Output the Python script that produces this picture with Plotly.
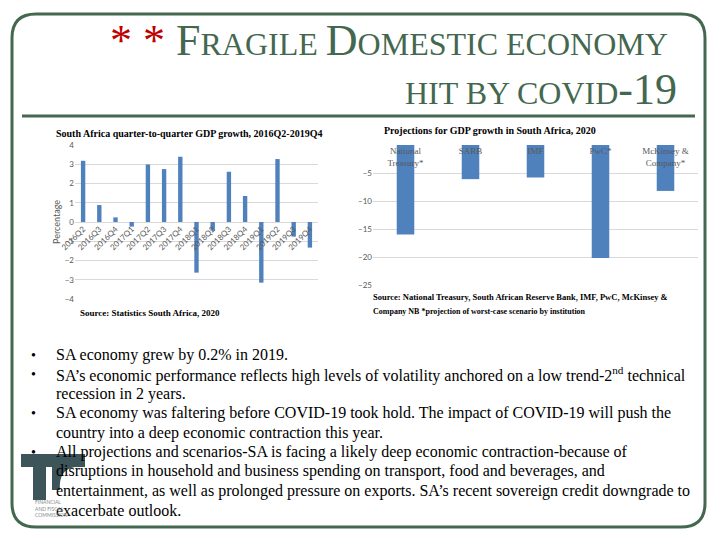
import plotly.graph_objects as go

# ---------------- data ----------------
quarters = ["2016Q2", "2016Q3", "2016Q4", "2017Q1", "2017Q2", "2017Q3", "2017Q4",
            "2018Q1", "2018Q2", "2018Q3", "2018Q4", "2019Q1", "2019Q2", "2019Q3", "2019Q4"]
gdp_growth = [3.18, 0.88, 0.24, -0.24, 2.99, 2.75, 3.39,
              -2.63, -0.45, 2.61, 1.35, -3.15, 3.27, -0.76, -1.33]
left_ticks = [-4, -3, -2, -1, 0, 1, 2, 3, 4]

institutions = ["National<br>Treasury*", "SARB", "IMF", "PwC*", "McKinsey &<br>Company*"]
projections_2020 = [-16.0, -6.1, -5.8, -20.2, -8.2]
right_ticks = [-25, -20, -15, -10, -5, 0]

bullets = [
    (True, "SA economy grew by 0.2% in 2019."),
    (True, "SA’s economic performance reflects high levels of volatility anchored on a low trend-2<sup>nd</sup> technical"),
    (False, "recession in 2 years."),
    (True, "SA economy was faltering before COVID-19 took hold. The impact of COVID-19 will push the"),
    (False, "country into a deep economic contraction this year."),
    (True, "All projections and scenarios-SA is facing a likely deep economic contraction-because of"),
    (False, "disruptions in household and business spending on transport, food and beverages, and"),
    (False, "entertainment, as well as prolonged pressure on exports. SA’s recent sovereign credit downgrade to"),
    (False, "exacerbate outlook."),
]

W, H = 720, 540
OFF = 8  # page body margin offset
def fx(x): return (x - OFF) / W
def fy(y): return 1 - (y - OFF) / H

BAR = "#4F81BD"
GRID = "#D9D9D9"
TICK = "#595959"
GREEN = "#44684F"
SERIF = "Liberation Serif, Times New Roman, serif"
SANS = "Lato, Liberation Sans, sans-serif"

fig = go.Figure()
fig.add_trace(go.Bar(x=quarters, y=gdp_growth, marker_color=BAR, xaxis="x", yaxis="y",
                     showlegend=False, hoverinfo="x+y"))
fig.add_trace(go.Bar(x=institutions, y=projections_2020, marker_color=BAR, xaxis="x2", yaxis="y2",
                     showlegend=False, hoverinfo="x+y"))

l_top, l_bot = fy(145), fy(299)
zero_pos = fy(222)
r_top, r_bot = fy(145), fy(285)

fig.update_layout(
    template="none",
    width=W, height=H, margin=dict(l=0, r=0, t=0, b=0, autoexpand=False),
    paper_bgcolor="white", plot_bgcolor="white",
    bargap=0.73,
    xaxis=dict(domain=[fx(75), fx(318)], anchor="free", position=zero_pos, automargin=False,
               tickangle=-45, tickfont=dict(family=SANS, size=8, color=TICK),
               showgrid=False, showline=False, ticks="", ticklen=0),
    yaxis=dict(domain=[l_bot, l_top], range=[-4, 4], tickvals=left_ticks, automargin=False,
               tickfont=dict(family=SANS, size=8, color=TICK),
               showgrid=True, gridcolor=GRID, zeroline=True, zerolinecolor=GRID,
               zerolinewidth=1, ticks="", showline=False,
               title=dict(text="Percentage", font=dict(family=SANS, size=9, color=TICK), standoff=2)),
    xaxis2=dict(domain=[fx(373), fx(698)], anchor="y2", side="top", ticklabelposition="inside",
                automargin=False,
                tickfont=dict(family=SERIF, size=9, color=TICK),
                showgrid=False, showline=False, ticks=""),
    yaxis2=dict(domain=[r_bot, r_top], range=[-25, 0], tickvals=right_ticks, anchor="x2",
                automargin=False,
                tickfont=dict(family=SANS, size=8, color=TICK),
                showgrid=True, gridcolor=GRID, zeroline=True, zerolinecolor=GRID,
                zerolinewidth=1, ticks="", showline=False),
)

ann = []
# header
ann.append(dict(x=fx(670), y=fy(67), xref="paper", yref="paper", xanchor="right", yanchor="bottom",
                showarrow=False,
                text='<span style="color:#C00000">* * </span>F<span style="font-size:32px">RAGILE </span>D'
                     '<span style="font-size:32px">OMESTIC ECONOMY</span>',
                font=dict(family=SERIF, size=44, color=GREEN)))
ann.append(dict(x=fx(679), y=fy(116), xref="paper", yref="paper", xanchor="right", yanchor="bottom",
                showarrow=False,
                text='<span style="font-size:32px">HIT BY COVID</span>-19',
                font=dict(family=SERIF, size=44, color=GREEN)))
# chart titles
ann.append(dict(x=fx(189), y=fy(133), xref="paper", yref="paper", xanchor="center", yanchor="middle",
                showarrow=False, text="<b>South Africa quarter-to-quarter GDP growth, 2016Q2-2019Q4</b>",
                font=dict(family=SERIF, size=10, color="black")))
ann.append(dict(x=fx(490), y=fy(131), xref="paper", yref="paper", xanchor="center", yanchor="middle",
                showarrow=False, text="<b>Projections for GDP growth in South Africa, 2020</b>",
                font=dict(family=SERIF, size=10, color="black")))
# sources
ann.append(dict(x=fx(78), y=fy(313), xref="paper", yref="paper", xanchor="left", yanchor="middle",
                showarrow=False, text="<b>Source: Statistics South Africa, 2020</b>",
                font=dict(family=SERIF, size=9, color="black")))
ann.append(dict(x=fx(371), y=fy(297), xref="paper", yref="paper", xanchor="left", yanchor="middle",
                showarrow=False,
                text="<b>Source: National Treasury, South African Reserve Bank, IMF, PwC, McKinsey &amp;</b>",
                font=dict(family=SERIF, size=8.5, color="black")))
ann.append(dict(x=fx(371), y=fy(311), xref="paper", yref="paper", xanchor="left", yanchor="middle",
                showarrow=False,
                text="<b>Company NB *projection of worst-case scenario by institution</b>",
                font=dict(family=SERIF, size=8, color="black")))
# bullets
y0, dy = 355, 19.4
for i, (has_bullet, line) in enumerate(bullets):
    yy = y0 + i * dy
    if has_bullet:
        ann.append(dict(x=fx(34), y=fy(yy), xref="paper", yref="paper", xanchor="center", yanchor="middle",
                        showarrow=False, text="•", font=dict(family=SERIF, size=14, color="black")))
    ann.append(dict(x=fx(54), y=fy(yy), xref="paper", yref="paper", xanchor="left", yanchor="middle",
                    showarrow=False, text=line, font=dict(family=SERIF, size=16, color="black")))
# logo text
ann.append(dict(x=fx(33), y=fy(508), xref="paper", yref="paper", xanchor="left", yanchor="middle",
                showarrow=False, text="FINANCIAL<br>AND FISCAL<br>COMMISSION", align="left",
                font=dict(family=SANS, size=5, color="#7F8C8D")))
fig.update_layout(annotations=ann)

# shapes: border, rule, logo
x0b, x1b, y0b, y1b, r = 12, 705, 14, 527, 24
rx, ry = r / W, r / H
L, R, T, B = fx(x0b), fx(x1b), fy(y0b), fy(y1b)
border = (f"M {L+rx},{T} L {R-rx},{T} Q {R},{T} {R},{T-ry} L {R},{B+ry} Q {R},{B} {R-rx},{B} "
          f"L {L+rx},{B} Q {L},{B} {L},{B+ry} L {L},{T-ry} Q {L},{T} {L+rx},{T} Z")
shapes = [
    dict(type="path", path=border, xref="paper", yref="paper", line=dict(color=GREEN, width=3), layer="below"),
    dict(type="line", x0=fx(22), x1=fx(695), y0=fy(116), y1=fy(116), xref="paper", yref="paper",
         line=dict(color=GREEN, width=3)),
]
LOGO = "#3D5459"
for (a, b, c, d) in [(21, 52, 454, 467), (33, 46, 467, 500), (52, 85, 454, 467)]:
    shapes.append(dict(type="rect", x0=fx(a), x1=fx(b), y0=fy(c), y1=fy(d), xref="paper", yref="paper",
                       line=dict(width=0), fillcolor=LOGO, layer="below"))
cpath = (f"M {fx(52)},{fy(467)} L {fx(75)},{fy(467)} Q {fx(58)},{fy(470)} {fx(60)},{fy(490)} "
         f"L {fx(52)},{fy(490)} Z")
shapes.append(dict(type="path", path=cpath, xref="paper", yref="paper", line=dict(width=0),
                   fillcolor=LOGO, layer="below"))
fig.update_layout(shapes=shapes)

fig.write_html("out.html")
